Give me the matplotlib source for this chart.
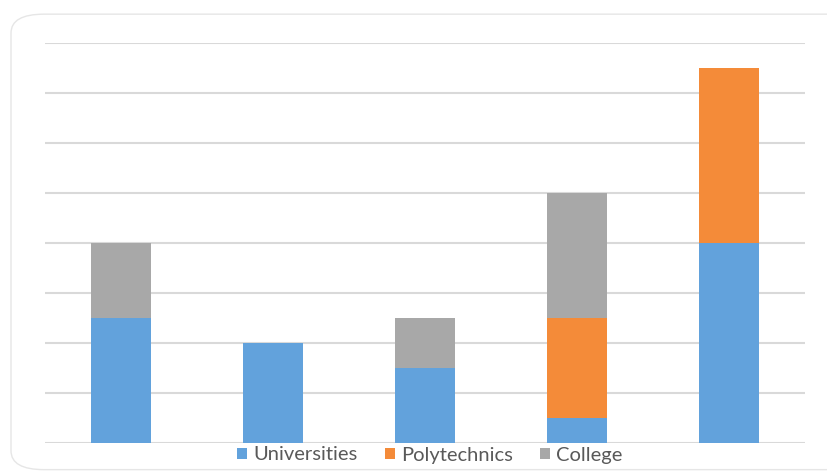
import numpy as np
import matplotlib.pyplot as plt
from matplotlib.patches import FancyBboxPatch

categories = ['A', 'B', 'C', 'D', 'E']
universities = [2.5, 2.0, 1.5, 0.5, 4.0]
polytechnics = [0.0, 0.0, 0.0, 2.0, 3.5]
college = [1.5, 0.0, 1.0, 2.5, 0.0]

colors = {'Universities': '#62a2dc', 'Polytechnics': '#f48b39', 'College': '#a8a8a8'}

fig = plt.figure(figsize=(8.28, 4.72), dpi=100)
fig.patch.set_facecolor('white')

# rounded chart-area frame, kept behind the axes
frame = FancyBboxPatch((11 / 828, 0.005), 1.2, 0.97 - 0.005,
                       boxstyle='round,pad=0,rounding_size=0.04',
                       transform=fig.transFigure, facecolor='white',
                       edgecolor='#e6e6e6', linewidth=1.0, zorder=-1)
fig.patches.append(frame)

ax = fig.add_axes([45 / 828, 29 / 472, 760 / 828, 400 / 472])
ax.set_facecolor('none')

x = np.arange(len(categories))
w = 0.395
bottom = np.zeros(len(categories))
for name, vals in [('Universities', universities),
                   ('Polytechnics', polytechnics),
                   ('College', college)]:
    vals = np.array(vals)
    ax.bar(x, vals, w, bottom=bottom, color=colors[name], label=name, zorder=3)
    bottom += vals

ax.set_xlim(-0.5, 4.5)
ax.set_ylim(0, 8)
ax.set_yticks(np.arange(0, 9, 1))
ax.grid(axis='y', color='#d9d9d9', linewidth=1.5, zorder=0)
ax.tick_params(left=False, bottom=False, labelleft=False, labelbottom=False)
for s in ax.spines.values():
    s.set_visible(False)

fig.legend(loc='center', bbox_to_anchor=(430 / 828, 1 - 455 / 472), ncol=3,
           frameon=False, handlelength=0.5, handleheight=0.5,
           handletextpad=0.3, columnspacing=1.35,
           prop={'family': 'Lato', 'size': 14.5})
for t in fig.legends[0].get_texts():
    t.set_color('#595959')

fig.savefig('out.png', dpi=100)
